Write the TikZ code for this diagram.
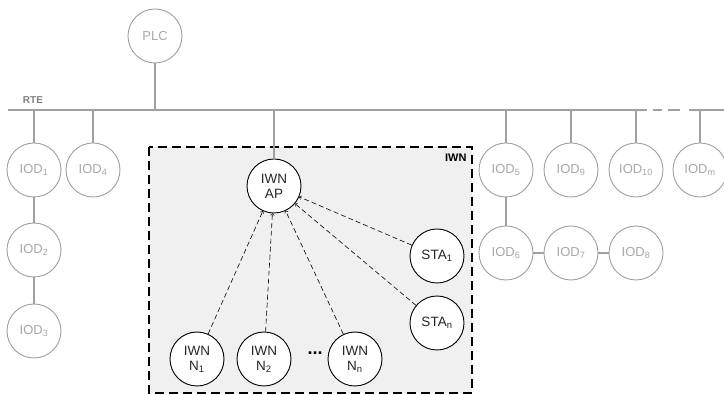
\documentclass[tikz,border=0pt]{standalone}
\usepackage{fontspec}
\setmainfont{Liberation Sans}
\usetikzlibrary{positioning}
\definecolor{iodgray}{HTML}{A0A0A0}
\definecolor{iodtext}{HTML}{A8A8A8}
\definecolor{boxfill}{HTML}{F0F0F0}

\begin{document}
\begin{tikzpicture}[x=1pt, y=-1pt,
    iod/.style={circle, draw=iodgray, line width=0.9pt, fill=white, text=iodtext, minimum size=54pt, inner sep=0pt, font=\fontsize{13}{14}\selectfont},
    iwn/.style={circle, draw=black, line width=0.9pt, fill=white, text=black!85, minimum size=54pt, inner sep=0pt, align=center, font=\fontsize{13.5}{15}\selectfont},
    bus/.style={draw=iodgray, line width=1.2pt},
    link/.style={draw=black, line width=0.6pt, dash pattern=on 5pt off 3pt, ->},
]
    \useasboundingbox (0,0) rectangle (724,395);

    % IWN area
    \draw[fill=boxfill, line width=1.2pt, dash pattern=on 9pt off 5pt] (149,147) rectangle (472,393);
    \node[anchor=north east, font=\fontsize{11}{12}\selectfont\bfseries] (iwnlabel) at (470,150) {IWN};

    % RTE bus
    \coordinate (busL) at (8,110);
    \coordinate (busA) at (647,110);
    \coordinate (busB) at (689,110);
    \coordinate (busR) at (724,110);
    \draw[bus] (busL) -- (busA);
    \draw[bus, dash pattern=on 0pt off 6pt on 9pt off 6pt on 12pt off 9pt] (busA) -- (busB);
    \draw[bus] (busB) -- (busR);
    \node[font=\fontsize{10}{11}\selectfont\bfseries, text=iodgray!80!black] (rte) at (33,100) {RTE};

    % controller
    \node[iod] (plc) at (155,36) {PLC};

    % IO devices, left
    \node[iod] (iod1) at (34,170) {IOD\textsubscript{1}};
    \node[iod] (iod4) at (93,170) {IOD\textsubscript{4}};
    \node[iod] (iod2) at (34,250) {IOD\textsubscript{2}};
    \node[iod] (iod3) at (34,331) {IOD\textsubscript{3}};

    % IO devices, right
    \node[iod] (iod5) at (506,170) {IOD\textsubscript{5}};
    \node[iod] (iod9) at (571,170) {IOD\textsubscript{9}};
    \node[iod] (iod10) at (636,170) {IOD\textsubscript{10}};
    \node[iod] (iodm) at (700,170) {IOD\textsubscript{m}};
    \node[iod] (iod6) at (506,253) {IOD\textsubscript{6}};
    \node[iod] (iod7) at (571,253) {IOD\textsubscript{7}};
    \node[iod] (iod8) at (636,253) {IOD\textsubscript{8}};

    % wireless nodes
    \node[iwn] (ap) at (274,186) {IWN\\AP};
    \node[iwn] (sta1) at (437,256) {STA\textsubscript{1}};
    \node[iwn] (stan) at (437,323) {STA\textsubscript{n}};
    \node[iwn] (n1) at (197,359) {IWN\\N\textsubscript{1}};
    \node[iwn] (n2) at (264,359) {IWN\\N\textsubscript{2}};
    \node[iwn] (nn) at (355,359) {IWN\\N\textsubscript{n}};
    \node[font=\fontsize{18}{18}\selectfont\bfseries] (dots) at (315,353) {...};

    % bus drops
    \foreach \n in {plc,iod1,iod4,ap,iod5,iod9,iod10,iodm} {
        \draw[bus] (\n) -- (\n |- busL);
    }
    \draw[bus] (iod1) -- (iod2);
    \draw[bus] (iod2) -- (iod3);
    \draw[bus] (iod5) -- (iod6);
    \draw[bus] (iod6) -- (iod7);
    \draw[bus] (iod7) -- (iod8);

    % wireless links
    \foreach \n in {n1,n2,nn,sta1,stan} {
        \draw[link] (\n) -- (ap);
    }
\end{tikzpicture}
\end{document}
